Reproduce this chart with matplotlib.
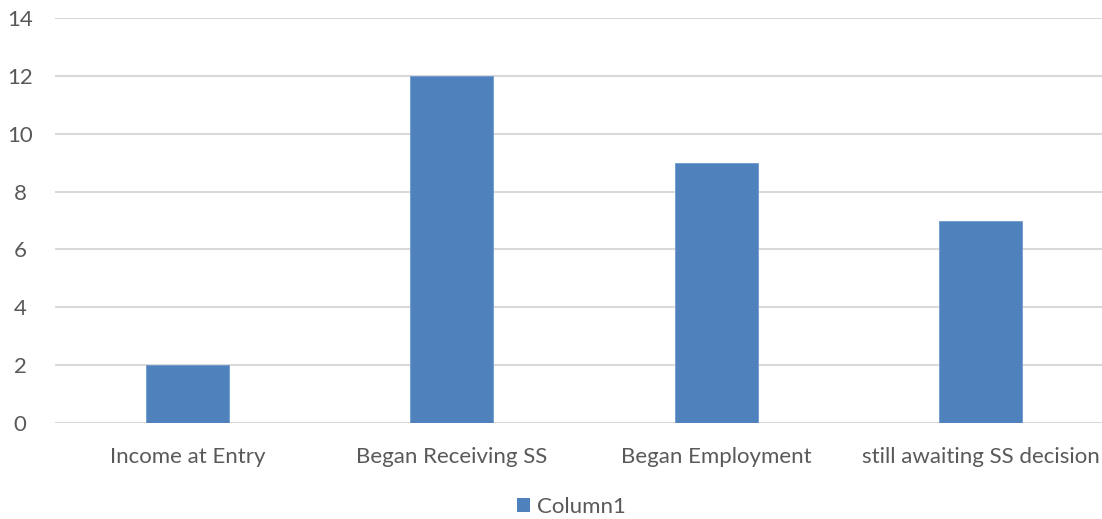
import matplotlib
matplotlib.use('Agg')
import matplotlib.pyplot as plt
from matplotlib.patches import Patch

categories = ["Income at Entry", "Began Receiving SS", "Began Employment", "still awaiting SS decision"]
values = [2, 12, 9, 7]
series_name = "Column1"

bar_color = "#4F81BD"
text_color = "#595959"
grid_color = "#D9D9D9"

plt.rcParams['font.family'] = ['Lato', 'DejaVu Sans']

fig = plt.figure(figsize=(11.02, 5.19), dpi=100)
# plot area in figure coords (axis runs a bit past the right edge like the original)
ax = fig.add_axes([55/1102, 1 - 423/519, (1113 - 55)/1102, (423 - 18)/519])

x = range(len(categories))
ax.bar(x, values, width=0.313, color=bar_color, edgecolor="#6E9AD0", linewidth=0.6, zorder=3)

ax.set_xlim(-0.5, len(categories) - 0.5)
ax.set_ylim(0, 14)
ax.set_yticks(range(0, 15, 2))
ax.set_xticks(list(x))
ax.set_xticklabels(categories)

ax.yaxis.grid(True, color=grid_color, linewidth=1.5, zorder=0)
for s in ax.spines.values():
    s.set_visible(False)
ax.tick_params(axis='both', length=0, labelsize=16, colors=text_color)
ax.tick_params(axis='x', pad=17)
ax.tick_params(axis='y', pad=25)
for lbl in ax.get_yticklabels():
    lbl.set_horizontalalignment('center')

fig.legend(handles=[Patch(facecolor=bar_color, label=series_name)],
           loc='center', bbox_to_anchor=(571/1102, 1 - 507/519), frameon=False,
           fontsize=16, labelcolor=text_color, handlelength=0.6, handleheight=0.6,
           handletextpad=0.3)

fig.savefig("out.png", dpi=100)
